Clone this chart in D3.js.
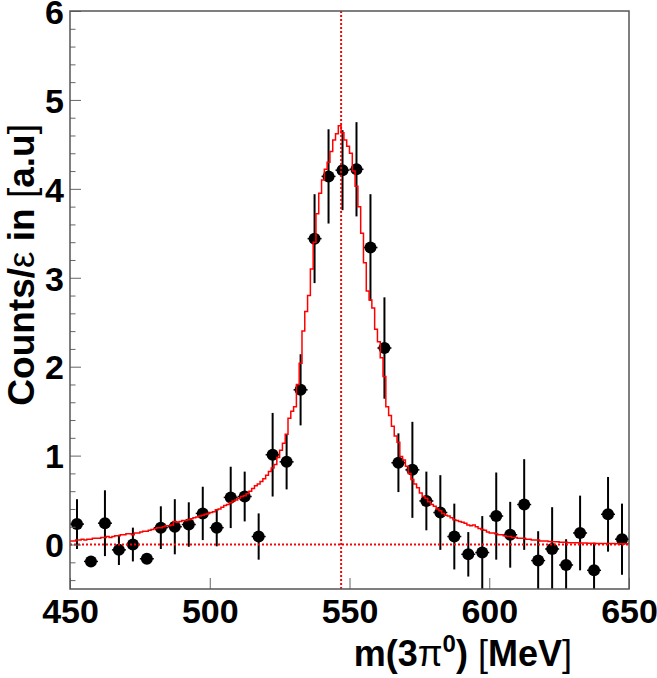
<!DOCTYPE html>
<html><head><meta charset="utf-8">
<script src="https://cdn.jsdelivr.net/npm/d3@7"></script>
<style>body{margin:0;background:#fff}svg{display:block}</style>
</head><body>
<script>
// ---- data ----
const binCenters = [452.5,457.5,462.5,467.5,472.5,477.5,482.5,487.5,492.5,497.5,
  502.5,507.5,512.5,517.5,522.5,527.5,532.5,537.5,542.5,547.5,
  552.5,557.5,562.5,567.5,572.5,577.5,582.5,587.5,592.5,597.5,
  602.5,607.5,612.5,617.5,622.5,627.5,632.5,637.5,642.5,647.5];
const counts = [0.23,-0.19,0.24,-0.06,0.00,-0.16,0.19,0.20,0.225,0.35,
  0.19,0.53,0.54,0.09,1.01,0.93,1.74,3.44,4.14,4.21,
  4.22,3.34,2.21,0.92,0.84,0.49,0.36,0.09,-0.11,-0.09,
  0.32,0.11,0.45,-0.18,-0.05,-0.23,0.13,-0.29,0.34,0.06];
const errors = [0.28,0.06,0.37,0.17,0.19,0.05,0.24,0.31,0.25,0.30,
  0.21,0.345,0.28,0.26,0.47,0.31,0.40,0.50,0.53,0.45,
  0.53,0.60,0.57,0.33,0.54,0.33,0.42,0.37,0.25,0.41,
  0.49,0.37,0.51,0.33,0.47,0.29,0.42,0.31,0.42,0.40];
const binHalfWidth = 2.5;
// MC histogram, 1 MeV bins from 450 to 650
const mcLow = 450, mcBinWidth = 1;
const mcValues = [
  0.04,0.04,0.05,0.05,0.06,0.05,0.06,0.06,0.07,0.07,
  0.07,0.08,0.08,0.09,0.08,0.09,0.10,0.10,0.11,0.11,
  0.12,0.12,0.11,0.13,0.13,0.14,0.15,0.15,0.16,0.17,
  0.18,0.19,0.19,0.20,0.21,0.21,0.22,0.26,0.25,0.26,
  0.27,0.27,0.28,0.29,0.30,0.31,0.32,0.33,0.34,0.35,
  0.36,0.37,0.39,0.40,0.42,0.44,0.45,0.47,0.49,0.50,
  0.52,0.54,0.55,0.57,0.60,0.63,0.66,0.68,0.71,0.74,
  0.78,0.82,0.86,0.90,0.98,1.06,1.14,1.24,1.42,1.50,
  1.55,1.80,2.04,2.40,2.62,2.80,3.10,3.40,3.72,3.95,
  4.10,4.22,4.30,4.42,4.55,4.62,4.71,4.63,4.55,4.48,
  4.40,4.20,4.03,3.80,3.50,3.17,2.85,2.75,2.66,2.42,
  2.28,2.10,1.89,1.55,1.45,1.33,1.22,1.15,0.99,0.95,
  0.88,0.80,0.73,0.68,0.64,0.58,0.54,0.52,0.48,0.45,
  0.43,0.40,0.38,0.35,0.33,0.32,0.30,0.28,0.27,0.26,
  0.25,0.24,0.22,0.21,0.22,0.20,0.18,0.17,0.16,0.14,
  0.13,0.13,0.12,0.11,0.11,0.10,0.09,0.09,0.08,0.08,
  0.07,0.07,0.07,0.06,0.06,0.05,0.05,0.05,0.04,0.04,
  0.04,0.035,0.03,0.03,0.03,0.025,0.026,0.025,0.02,0.02,
  0.02,0.02,0.018,0.017,0.016,0.015,0.015,0.014,0.013,0.013,
  0.012,0.012,0.012,0.011,0.011,0.01,0.01,0.01,0.01,0.01];
const etaMass = 547;
const xTicks = [450,500,550,600,650];
const yTicks = [0,1,2,3,4,5,6];
const yMinorTicks = [-0.4,-0.2,0.2,0.4,0.6,0.8,1.2,1.4,1.6,1.8,2.2,2.4,2.6,2.8,3.2,3.4,3.6,3.8,4.2,4.4,4.6,4.8,5.2,5.4,5.6,5.8];

// ---- chart ----
const W = 657, H = 678;
const L = 70, R = 629, T = 11, B = 589;
const x = d3.scaleLinear().domain([450,650]).range([L,R]);
const y = d3.scaleLinear().domain([-0.5,6]).range([B,T]);
const font = "'Liberation Sans', Arial, Helvetica, sans-serif";

const svg = d3.select("body").append("svg").attr("width",W).attr("height",H);
svg.append("defs").append("clipPath").attr("id","clip")
  .append("rect").attr("x",L).attr("y",T).attr("width",R-L).attr("height",B-T);

const plot = svg.append("g").attr("clip-path","url(#clip)");

// data points
const pts = binCenters.map((c,i)=>({c, v:counts[i], e:errors[i]}));
const pg = plot.append("g");
pg.selectAll("line.ev").data(pts).join("line").attr("class","ev")
  .attr("x1",d=>x(d.c)).attr("x2",d=>x(d.c))
  .attr("y1",d=>y(d.v+d.e)).attr("y2",d=>y(d.v-d.e))
  .attr("stroke","#000").attr("stroke-width",2);
pg.selectAll("line.eh").data(pts).join("line").attr("class","eh")
  .attr("x1",d=>x(d.c-binHalfWidth)).attr("x2",d=>x(d.c+binHalfWidth))
  .attr("y1",d=>y(d.v)).attr("y2",d=>y(d.v))
  .attr("stroke","#000").attr("stroke-width",1.5);
pg.selectAll("circle").data(pts).join("circle")
  .attr("cx",d=>x(d.c)).attr("cy",d=>y(d.v)).attr("r",6).attr("fill","#000");

// MC step histogram
let path = d3.path();
mcValues.forEach((v,i)=>{
  const x0 = x(mcLow+i*mcBinWidth), x1 = x(mcLow+(i+1)*mcBinWidth);
  if(i===0) path.moveTo(x0,y(v)); else path.lineTo(x0,y(v));
  path.lineTo(x1,y(v));
});
plot.append("path").attr("d",path.toString()).attr("fill","none")
  .attr("stroke","#ff0000").attr("stroke-width",1.5);

// dotted reference lines
plot.append("line").attr("x1",L).attr("x2",R).attr("y1",y(0)).attr("y2",y(0))
  .attr("stroke","#ff0000").attr("stroke-width",2).attr("stroke-dasharray","2,2");
plot.append("line").attr("x1",x(etaMass)).attr("x2",x(etaMass)).attr("y1",T).attr("y2",B)
  .attr("stroke","#ff0000").attr("stroke-width",2).attr("stroke-dasharray","2,2");

// axes
function styleAxis(g){
  g.select(".domain").remove();
  g.selectAll(".tick line").attr("stroke","#666").attr("stroke-width",1);
  g.selectAll("text").attr("font-family",font).attr("font-weight","bold")
    .attr("font-size",34).attr("fill","#000");
}
svg.append("g").attr("transform",`translate(${L},0)`)
  .call(d3.axisLeft(y).tickValues(yTicks).tickSize(-11).tickPadding(6).tickFormat(d3.format("d")))
  .call(styleAxis)
  .call(g=>g.selectAll("text").attr("dy","0.36em"));
svg.append("g").attr("transform",`translate(${L},0)`)
  .call(d3.axisLeft(y).tickValues(yMinorTicks).tickSize(-5.5).tickFormat(""))
  .call(styleAxis);
svg.append("g").attr("transform",`translate(0,${B})`)
  .call(d3.axisBottom(x).tickValues(xTicks).tickSize(-11).tickPadding(10).tickFormat(d3.format("d")))
  .call(styleAxis);

// frame
svg.append("rect").attr("x",L).attr("y",T).attr("width",R-L).attr("height",B-T)
  .attr("fill","none").attr("stroke","#555").attr("stroke-width",1.5);

// titles
const yt = svg.append("text").attr("transform","translate(34,124) rotate(-90)")
  .attr("text-anchor","end").attr("font-family",font).attr("font-size",37).attr("font-weight","bold");
yt.append("tspan").text("Counts/");
yt.append("tspan").attr("font-weight","normal").text("ε");
yt.append("tspan").text(" in ");
yt.append("tspan").attr("font-weight","normal").text("[");
yt.append("tspan").text("a.u");
yt.append("tspan").attr("font-weight","normal").text("]");

const xt = svg.append("text").attr("x",572).attr("y",666)
  .attr("text-anchor","end").attr("font-family",font).attr("font-size",36).attr("font-weight","bold");
xt.append("tspan").text("m(3");
xt.append("tspan").attr("font-weight","normal").text("π");
xt.append("tspan").attr("font-size",24).attr("dy",-14).text("0");
xt.append("tspan").attr("dy",14).text(") ");
xt.append("tspan").attr("font-weight","normal").text("[");
xt.append("tspan").text("MeV");
xt.append("tspan").attr("font-weight","normal").text("]");
</script>
</body></html>
